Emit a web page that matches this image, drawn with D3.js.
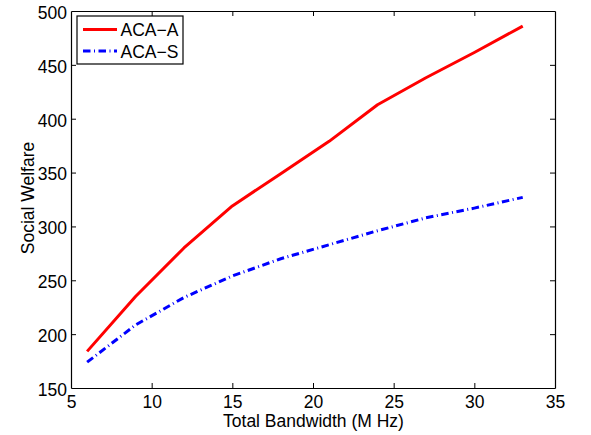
<!DOCTYPE html>
<html>
<head>
<meta charset="utf-8">
<script src="https://cdn.jsdelivr.net/npm/d3@7"></script>
<style>
  html, body { margin: 0; padding: 0; background: #fff; }
  svg { display: block; font-family: "Liberation Sans", Arial, Helvetica, sans-serif; }
</style>
</head>
<body>
<svg id="chart" width="591" height="435"></svg>
<script>
// Total bandwidth (MHz) sampled for both schemes
const bandwidth = [6, 9, 12, 15, 18, 21, 24, 27, 30, 33];
// Social welfare per scheme
const acaA = [184, 235, 280, 319, 349, 379, 413, 438, 461.5, 486];
const acaS = [174, 208.5, 234, 254, 270, 283, 296, 308, 317, 327];
const seriesNames = ["ACA\u2212A", "ACA\u2212S"];
const xTicks = [5, 10, 15, 20, 25, 30, 35];
const yTicks = [150, 200, 250, 300, 350, 400, 450, 500];

const svg = d3.select("#chart");
const plotLeft = 71, plotRight = 555, plotTop = 11, plotBottom = 388;

const x = d3.scaleLinear().domain([5, 35]).range([plotLeft, plotRight]);
const y = d3.scaleLinear().domain([150, 500]).range([plotBottom, plotTop]);

const tickLen = 5;
const fontSize = 17.5;
const fontFamily = "'Liberation Sans', Arial, sans-serif";

// Axes: ticks point inward, mirrored on top and right
const gx = svg.append("g").attr("transform", `translate(0,${plotBottom})`)
  .call(d3.axisBottom(x).tickValues(xTicks).tickFormat(d3.format("d"))
    .tickSizeInner(-tickLen).tickSizeOuter(0).tickPadding(7));
const gxTop = svg.append("g").attr("transform", `translate(0,${plotTop})`)
  .call(d3.axisTop(x).tickValues(xTicks).tickFormat("")
    .tickSizeInner(-tickLen).tickSizeOuter(0));
const gy = svg.append("g").attr("transform", `translate(${plotLeft},0)`)
  .call(d3.axisLeft(y).tickValues(yTicks).tickFormat(d3.format("d"))
    .tickSizeInner(-tickLen).tickSizeOuter(0).tickPadding(4));
const gyRight = svg.append("g").attr("transform", `translate(${plotRight},0)`)
  .call(d3.axisRight(y).tickValues(yTicks).tickFormat("")
    .tickSizeInner(-tickLen).tickSizeOuter(0));

[gx, gxTop, gy, gyRight].forEach(g => {
  g.selectAll(".domain").attr("stroke", "#000").attr("stroke-width", 1.2);
  g.selectAll(".tick line").attr("stroke", "#000").attr("stroke-width", 1);
  g.selectAll(".tick text").attr("fill", "#000")
    .style("font-size", fontSize + "px")
    .style("font-family", fontFamily);
});
// Hide end ticks that would sit on the frame corners
gx.selectAll(".tick line").filter(d => d === 5 || d === 35).remove();
gxTop.selectAll(".tick line").filter(d => d === 5 || d === 35).remove();
gy.selectAll(".tick line").filter(d => d === 150 || d === 500).remove();
gyRight.selectAll(".tick line").filter(d => d === 150 || d === 500).remove();
gx.selectAll(".tick text").attr("dy", "0.72em");
gy.selectAll(".tick text").attr("dy", "0.42em");

// Series lines
const line = d3.line().x(d => x(d[0])).y(d => y(d[1]));
const dataA = bandwidth.map((b, i) => [b, acaA[i]]);
const dataS = bandwidth.map((b, i) => [b, acaS[i]]);

svg.append("path").datum(dataA)
  .attr("d", line).attr("fill", "none")
  .attr("stroke", "#ff0000").attr("stroke-width", 3)
  .attr("stroke-linejoin", "round");

svg.append("path").datum(dataS)
  .attr("d", line).attr("fill", "none")
  .attr("stroke", "#0000ff").attr("stroke-width", 3)
  .attr("stroke-dasharray", "7.5,3.5,1,3.5");

// Legend
const legend = svg.append("g");
legend.append("rect")
  .attr("x", 77).attr("y", 16).attr("width", 106).attr("height", 48)
  .attr("fill", "#fff").attr("stroke", "#000").attr("stroke-width", 1.2);
const rows = [
  { name: seriesNames[0], color: "#ff0000", dash: null, cy: 29.5, base: 35.7 },
  { name: seriesNames[1], color: "#0000ff", dash: "7.5,3.5,1,3.5", cy: 51, base: 57.7 }
];
rows.forEach(r => {
  const ln = legend.append("line")
    .attr("x1", 83).attr("x2", 117).attr("y1", r.cy).attr("y2", r.cy)
    .attr("stroke", r.color).attr("stroke-width", 3);
  if (r.dash) ln.attr("stroke-dasharray", r.dash);
  legend.append("text")
    .attr("x", 120.5).attr("y", r.base)
    .style("font-size", fontSize + "px").style("font-family", fontFamily)
    .attr("fill", "#000")
    .text(r.name);
});

// Axis titles
svg.append("text")
  .attr("x", 313.5).attr("y", 427)
  .attr("text-anchor", "middle")
  .style("font-size", fontSize + "px").style("font-family", fontFamily)
  .attr("fill", "#000")
  .text("Total Bandwidth (M Hz)");

svg.append("text")
  .attr("transform", `translate(34,198) rotate(-90)`)
  .attr("text-anchor", "middle")
  .style("font-size", fontSize + "px").style("font-family", fontFamily)
  .attr("fill", "#000")
  .text("Social Welfare");
</script>
</body>
</html>
